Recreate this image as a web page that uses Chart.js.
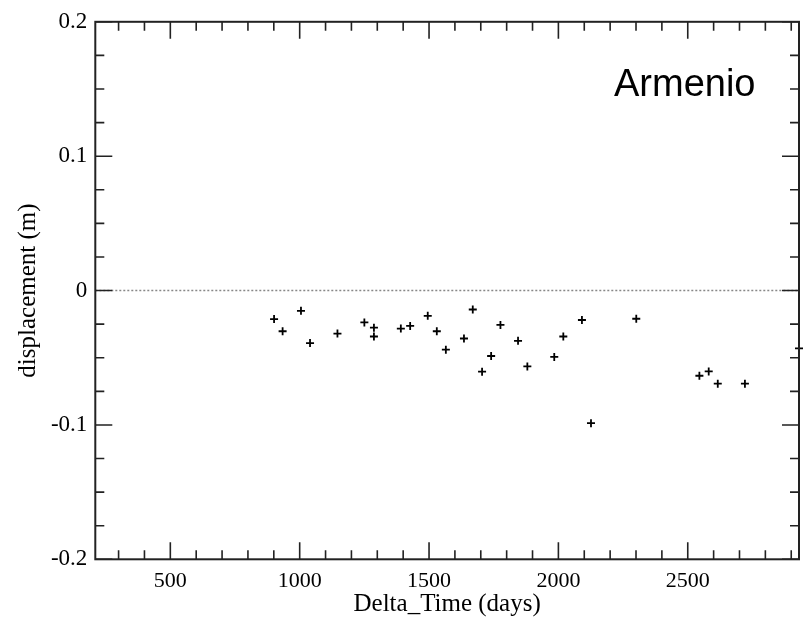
<!DOCTYPE html>
<html>
<head>
<meta charset="utf-8">
<script src="https://cdn.jsdelivr.net/npm/chart.js@4/dist/chart.umd.min.js"></script>
<style>
  body { margin: 0; background: #fff; }
  #wrap { width: 805px; height: 619px; position: relative; }
</style>
</head>
<body>
<div id="wrap"><canvas id="dispChart"></canvas></div>
<script>
// values (days, metres)
const deltaTime = [901, 934, 1005, 1040, 1146, 1250, 1287, 1287, 1391, 1427, 1495, 1530, 1565, 1635, 1669, 1705, 1740, 1776, 1844, 1880, 1984, 2019, 2091, 2126, 2301, 2545, 2581, 2616, 2721, 2930];
const displacement = [-0.0212, -0.0303, -0.0151, -0.0391, -0.0320, -0.0237, -0.0276, -0.0342, -0.0283, -0.0263, -0.0188, -0.0303, -0.0440, -0.0357, -0.0141, -0.0604, -0.0487, -0.0256, -0.0374, -0.0565, -0.0494, -0.0342, -0.0219, -0.0987, -0.0210, -0.0634, -0.0602, -0.0693, -0.0693, -0.0430];

const xTicks = [500, 1000, 1500, 2000, 2500];
const xTickLabels = ["500", "1000", "1500", "2000", "2500"];
const yTicks = [-0.2, -0.1, 0, 0.1, 0.2];
const yTickLabels = ["-0.2", "-0.1", "0", "0.1", "0.2"];
const xRange = [210, 2930];
const yRange = [-0.2, 0.2];
const stationName = "Armenio";

const points = deltaTime.map((t, i) => ({ x: t, y: displacement[i] }));
const serif = "'Liberation Serif', 'Times New Roman', serif";

// inward ticks on all four sides plus the frame, Grace style
const frameTicks = {
  id: "frameTicks",
  afterDatasetsDraw(chart) {
    const { ctx, chartArea: a, scales: { x, y } } = chart;
    ctx.save();
    ctx.strokeStyle = "#222";
    ctx.lineWidth = 1.6;
    ctx.beginPath();
    for (let v = 300; v <= xRange[1]; v += 100) {
      const px = x.getPixelForValue(v);
      const len = v % 500 === 0 ? 17 : 9;
      ctx.moveTo(px, a.bottom); ctx.lineTo(px, a.bottom - len);
      ctx.moveTo(px, a.top); ctx.lineTo(px, a.top + len);
    }
    for (let k = -8; k <= 8; k++) {
      const py = y.getPixelForValue(k * 0.025);
      const len = k % 4 === 0 ? 17 : 9;
      ctx.moveTo(a.left, py); ctx.lineTo(a.left + len, py);
      ctx.moveTo(a.right, py); ctx.lineTo(a.right - len, py);
    }
    ctx.stroke();
    ctx.lineWidth = 2;
    ctx.strokeRect(a.left, a.top, a.right - a.left, a.bottom - a.top);

    ctx.fillStyle = "#000";
    ctx.font = "38px 'Liberation Sans', Arial, sans-serif";
    ctx.textBaseline = "alphabetic";
    ctx.fillText(stationName, 614, 96);
    ctx.restore();
  }
};

new Chart(document.getElementById("dispChart"), {
  type: "scatter",
  data: {
    datasets: [
      {
        label: "zero",
        type: "line",
        data: [{ x: xRange[0], y: 0 }, { x: xRange[1], y: 0 }],
        borderColor: "#888",
        borderWidth: 1.5,
        borderDash: [2, 2],
        pointRadius: 0
      },
      {
        label: "displacement",
        data: points,
        pointStyle: "cross",
        pointRadius: 4,
        borderColor: "#000",
        backgroundColor: "#000",
        borderWidth: 1.8,
        clip: false
      }
    ]
  },
  options: {
    responsive: true,
    maintainAspectRatio: false,
    animation: false,
    layout: { padding: { top: 15.7, right: 6, bottom: 0, left: 0 } },
    plugins: { legend: { display: false }, tooltip: { enabled: false } },
    scales: {
      x: {
        type: "linear",
        min: xRange[0],
        max: xRange[1],
        afterBuildTicks: s => { s.ticks = xTicks.map(v => ({ value: v })); },
        afterFit: s => { s.height = 59.7; },
        grid: { display: false, drawTicks: false },
        border: { display: false },
        ticks: {
          color: "#000",
          padding: 9,
          maxRotation: 0,
          callback: (v, i) => xTickLabels[i],
          font: { family: serif, size: 22 }
        },
        title: {
          display: true,
          text: "Delta_Time (days)",
          color: "#000",
          padding: { top: 0, bottom: 0 },
          font: { family: serif, size: 25 }
        }
      },
      y: {
        type: "linear",
        min: yRange[0],
        max: yRange[1],
        afterBuildTicks: s => { s.ticks = yTicks.map(v => ({ value: v })); },
        afterFit: s => { s.width = 95.3; },
        grid: { display: false, drawTicks: false },
        border: { display: false },
        ticks: {
          color: "#000",
          padding: 8,
          callback: (v, i) => yTickLabels[i],
          font: { family: serif, size: 23 }
        },
        title: {
          display: true,
          text: "displacement (m)",
          color: "#000",
          padding: { top: 13, bottom: 0 },
          font: { family: serif, size: 25 }
        }
      }
    }
  },
  plugins: [frameTicks]
});
</script>
</body>
</html>
